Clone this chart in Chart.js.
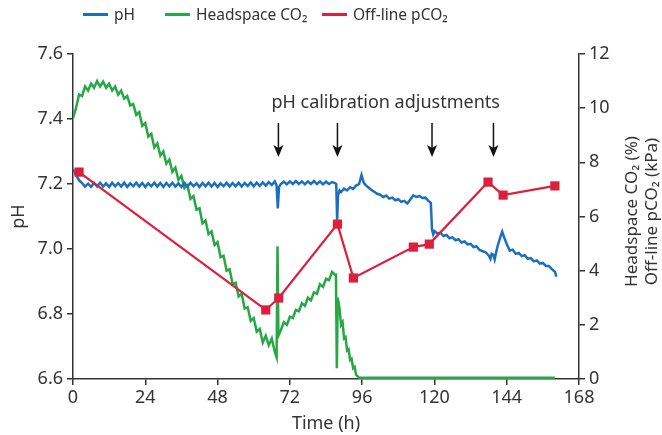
<!DOCTYPE html>
<html>
<head>
<meta charset="utf-8">
<script src="https://cdn.jsdelivr.net/npm/chart.js@4.4.1/dist/chart.umd.min.js"></script>
<style>
  body { margin:0; background:#fff; font-family:"Noto Sans", sans-serif; }
  #wrap { position:relative; width:662px; height:435px; }
  #legend { position:absolute; left:0; top:0; width:662px; height:30px; }
  .lg-item { position:absolute; top:3px; display:flex; align-items:center; font-size:15.5px; color:#333; }
  .lg-line { width:25px; height:3px; margin-right:6px; }
</style>
</head>
<body>
<div id="wrap">
  <canvas id="chart"></canvas>
  <div id="legend"></div>
</div>
<script>
/* pH / headspace CO2 / off-line pCO2 vs culture time */

const seriesLabels = ['pH', 'Headspace CO\u2082', 'Off-line pCO\u2082'];
const seriesColors = ['#1a6fbf', '#28a745', '#dc1f3c'];
const legendLeft   = [83, 165, 322];

const xTicks = [0, 24, 48, 72, 96, 120, 144, 168];

// [time (h), pH]
const phReadings = [
  [0,7.245],[1,7.228],[2,7.212],[3,7.203],[4,7.192],[5,7.201],[6,7.191],[7,7.203],[8,7.193],[9,7.204],
  [10,7.192],[11,7.202],[12,7.191],[13,7.204],[14,7.193],[15,7.203],[16,7.192],[17,7.204],[18,7.191],[19,7.202],
  [20,7.193],[21,7.204],[22,7.192],[23,7.203],[24,7.191],[25,7.202],[26,7.193],[27,7.204],[28,7.192],[29,7.203],
  [30,7.191],[31,7.203],[32,7.193],[33,7.204],[34,7.192],[35,7.202],[36,7.191],[37,7.203],[38,7.192],[39,7.204],
  [40,7.193],[41,7.202],[42,7.191],[43,7.203],[44,7.193],[45,7.204],[46,7.192],[47,7.203],[48,7.191],[49,7.202],
  [50,7.193],[51,7.204],[52,7.192],[53,7.203],[54,7.193],[55,7.204],[56,7.192],[57,7.203],[58,7.194],[59,7.205],
  [60,7.193],[61,7.204],[62,7.194],[63,7.205],[64,7.195],[65,7.206],[66,7.197],[67,7.208],
  [67.6,7.195],[68,7.125],[68.4,7.19],[69,7.2],
  [70,7.207],[71,7.199],[72,7.208],[73,7.2],[74,7.209],[75,7.2],[76,7.208],[77,7.199],[78,7.208],[79,7.2],
  [80,7.209],[81,7.2],[82,7.208],[83,7.199],[84,7.207],[85,7.2],[86,7.206],[87,7.203],
  [87.4,7.2],[87.7,7.09],[88,7.165],[88.5,7.18],[89,7.175],[90,7.186],[91,7.18],[92,7.19],[93,7.185],[94,7.195],
  [95,7.2],[95.8,7.228],[96.5,7.205],[97,7.198],[98,7.19],[99,7.182],[100,7.176],[101,7.17],[102,7.167],[103,7.16],
  [104,7.164],[105,7.155],[106,7.158],[107,7.15],[108,7.153],[109,7.145],[110,7.148],[111,7.14],[112,7.152],[113,7.165],
  [114,7.16],[115,7.163],[116,7.157],[117,7.158],[118,7.148],[118.8,7.142],[119.2,7.06],[119.6,7.045],[120,7.055],[121,7.048],
  [122,7.05],[123,7.04],[124,7.043],[125,7.033],[126,7.036],[127,7.027],[128,7.03],[129,7.02],[130,7.023],[131,7.014],
  [132,7.016],[133,7.006],[134,7.008],[135,6.997],[136,6.993],[137,6.99],[138,6.98],[138.6,6.97],[139,6.985],[139.6,6.982],
  [140,6.968],[140.5,6.99],[141,7.01],[142,7.04],[142.5,7.053],[143,7.04],[144,7.015],[145,6.995],[146,6.998],[147,6.985],
  [148,6.988],[149,6.978],[150,6.981],[151,6.97],[152,6.972],[153,6.962],[154,6.965],[155,6.955],[156,6.957],[157,6.948],
  [158,6.948],[159,6.938],[160,6.93],[160.5,6.915]
];

// [time (h), headspace CO2 %]
const co2Readings = [
  [0,9.64],[1,10.0],[2,10.5],[3,10.45],[4,10.8],[5,10.65],[6,10.9],[7,10.75],[8,11.0],[9,10.8],
  [10,10.98],[11,10.75],[12,10.9],[13,10.65],[14,10.8],[15,10.5],[16,10.65],[17,10.35],[18,10.45],[19,10.1],
  [20,10.15],[21,9.75],[22,9.85],[23,9.35],[24,9.45],[25,8.95],[26,9.05],[27,8.55],[28,8.7],[29,8.25],
  [30,8.4],[31,7.95],[32,8.1],[33,7.65],[34,7.8],[35,7.35],[36,7.5],[37,7.05],[38,7.15],[39,6.65],
  [40,6.75],[41,6.25],[42,6.3],[43,5.75],[44,5.85],[45,5.35],[46,5.45],[47,4.95],[48,5.05],[49,4.5],
  [50,4.55],[51,4.0],[52,4.05],[53,3.5],[54,3.55],[55,3.05],[56,3.15],[57,2.6],[58,2.65],[59,2.15],
  [60,2.25],[61,1.75],[62,1.85],[63,1.35],[64,1.6],[65,1.25],[66,1.5],[67,1.0],
  [67.6,0.8],[67.9,4.9],[68.2,1.6],[69,1.8],
  [70,2.1],[71,2.0],[72,2.3],[73,2.25],[74,2.55],[75,2.5],[76,2.8],[77,2.7],[78,3.0],[79,2.9],
  [80,3.2],[81,3.15],[82,3.5],[83,3.4],[84,3.7],[85,3.65],[86,3.95],[87,3.85],
  [87.3,3.9],[87.6,0.4],[87.9,3.0],[88.5,2.6],[89,2.0],[89.5,2.1],[90,1.5],[90.5,1.55],[91,1.05],[91.5,1.1],
  [92,0.7],[92.5,0.75],[93,0.4],[93.5,0.45],[94,0.15],[95,0.05],[160,0.05]
];

// [time (h), off-line pCO2 kPa]
const pco2Readings = [
  [2,7.64],[64,2.55],[68.3,2.99],[87.8,5.72],[93.1,3.73],[113,4.87],[118.3,4.98],[137.8,7.27],[142.8,6.79],[160,7.13]
];

// calibration arrows (time), arrow span in pH units, label anchor
const arrowTimes = [68.2, 87.8, 119.2, 139.6];
const arrowSpan  = [7.388, 7.283];
const noteText   = 'pH calibration adjustments';
const noteAt     = [103.8, 7.449];

const rightTitle = ['Headspace CO\u2082 (%)', 'Off-line pCO\u2082 (kPa)'];

const FONT = '"Noto Sans", sans-serif';
const INK = '#333';

const toXY = arr => arr.map(([x, y]) => ({ x, y }));

// legend (html, built from series arrays)
const lg = document.getElementById('legend');
seriesLabels.forEach((label, i) => {
  const it = document.createElement('div');
  it.className = 'lg-item';
  it.style.left = legendLeft[i] + 'px';
  it.innerHTML = `<span class="lg-line" style="background:${seriesColors[i]}"></span><span>${label}</span>`;
  lg.appendChild(it);
});

const annotations = {
  id: 'annotations',
  afterDatasetsDraw(chart) {
    const { ctx, scales: { x, y, y1 } } = chart;
    ctx.save();
    ctx.strokeStyle = '#111';
    ctx.fillStyle = '#111';
    ctx.lineWidth = 1.5;
    const yTop = y.getPixelForValue(arrowSpan[0]);
    const yBot = y.getPixelForValue(arrowSpan[1]);
    arrowTimes.forEach(t => {
      const px = x.getPixelForValue(t);
      ctx.beginPath();
      ctx.moveTo(px, yTop);
      ctx.lineTo(px, yBot - 6);
      ctx.stroke();
      ctx.beginPath();
      ctx.moveTo(px, yBot);
      ctx.lineTo(px - 5, yBot - 12);
      ctx.lineTo(px, yBot - 9);
      ctx.lineTo(px + 5, yBot - 12);
      ctx.closePath();
      ctx.fill();
    });
    ctx.fillStyle = INK;
    ctx.font = `18px ${FONT}`;
    ctx.textAlign = 'center';
    ctx.textBaseline = 'middle';
    ctx.fillText(noteText, x.getPixelForValue(noteAt[0]), y.getPixelForValue(noteAt[1]));

    // right axis title, reading bottom-to-top
    ctx.font = `17px ${FONT}`;
    const cy = (chart.chartArea.top + chart.chartArea.bottom) / 2 - 5;
    rightTitle.forEach((txt, i) => {
      ctx.save();
      ctx.translate(y1.left + 53 + i * 20, cy);
      ctx.rotate(-Math.PI / 2);
      ctx.fillText(txt, 0, 0);
      ctx.restore();
    });
    ctx.restore();
  }
};

const axisGrid = { drawOnChartArea:false, drawTicks:true, tickLength:6, color:INK, lineWidth:1.5 };
const axisBorder = { display:true, color:INK, width:1.5 };
const tickFont = { family:FONT, size:18 };

new Chart(document.getElementById('chart'), {
  type: 'line',
  data: {
    datasets: [
      { label: seriesLabels[2], data: toXY(pco2Readings), yAxisID:'y1', order:0,
        borderColor: seriesColors[2], backgroundColor: seriesColors[2], borderWidth:2.2,
        pointStyle:'rect', pointRadius:6.5, pointBorderWidth:0, pointBackgroundColor: seriesColors[2] },
      { label: seriesLabels[0], data: toXY(phReadings), yAxisID:'y', order:1,
        borderColor: seriesColors[0], backgroundColor: seriesColors[0], borderWidth:2.5, pointRadius:0 },
      { label: seriesLabels[1], data: toXY(co2Readings), yAxisID:'y1', order:2,
        borderColor: seriesColors[1], backgroundColor: seriesColors[1], borderWidth:2.5, pointRadius:0 },
    ]
  },
  options: {
    responsive: true,
    maintainAspectRatio: false,
    animation: false,
    layout: { padding: { top: 54 } },
    plugins: { legend: { display:false }, tooltip: { enabled:false } },
    scales: {
      x: {
        type:'linear', min:0, max:168,
        afterBuildTicks: s => { s.ticks = xTicks.map(v => ({ value:v })); },
        afterFit: s => { s.height = 56; },
        ticks: { color:INK, font:tickFont, padding:2, maxRotation:0 },
        grid: axisGrid, border: axisBorder,
        title: { display:true, text:'Time (h)', color:INK, font:{ family:FONT, size:18 }, padding:{ top:0, bottom:0 } },
      },
      y: {
        position:'left', min:6.6, max:7.6,
        afterFit: s => { s.width = 73; },
        ticks: { stepSize:0.2, color:INK, font:tickFont, padding:4, callback: v => v.toFixed(1) },
        grid: axisGrid, border: axisBorder,
        title: { display:true, text:'pH', color:INK, font:{ family:FONT, size:18 }, padding:{ top:8, bottom:0 } },
      },
      y1: {
        position:'right', min:0, max:12,
        afterFit: s => { s.width = 83; },
        ticks: { stepSize:2, color:INK, font:tickFont, padding:4 },
        grid: axisGrid, border: axisBorder,
      },
    },
  },
  plugins: [annotations],
});
</script>
</body>
</html>
